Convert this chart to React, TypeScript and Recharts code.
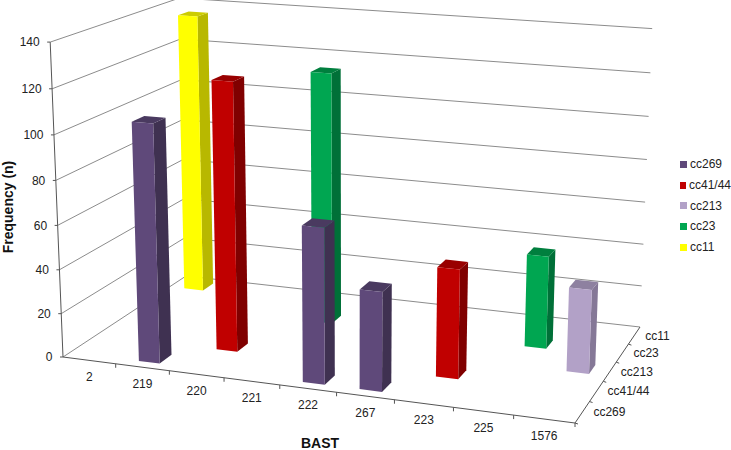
import { BarChart, Bar, XAxis, YAxis, Legend, Customized } from "recharts";

const WIDTH = 731;
const HEIGHT = 450;
const AXIS_SIZE = 1; // axes with a zero size are not drawn at all
const PLOT_W = WIDTH - AXIS_SIZE;
const PLOT_H = HEIGHT - AXIS_SIZE;

const categories = ["2", "219", "220", "221", "222", "267", "223", "225", "1576"];
const cc269 = [null, 107, null, null, 69, 44, null, null, null];
const cc4144 = [null, null, 122, null, null, null, 49, null, null];
const cc213 = [null, null, null, null, null, null, null, null, 38];
const cc23 = [null, null, null, 118, null, null, null, 43, null];
const cc11 = [135, null, null, null, null, null, null, null, null];

// front to back, same order as the depth axis
const seriesNames = ["cc269", "cc41/44", "cc213", "cc23", "cc11"];
const seriesValues = [cc269, cc4144, cc213, cc23, cc11];
const frontColors = ["#5F497A", "#C00000", "#B2A1C7", "#00A651", "#FFFF00"];
const sideColors = ["#3F3151", "#800000", "#857897", "#007038", "#B8B800"];
const topColors = ["#4A3A60", "#990000", "#8E81A0", "#007F3E", "#CCCC00"];
const valueTicks = [0, 20, 40, 60, 80, 100, 120, 140];
const MAX_VALUE = 140;

const data = categories.map((name, i) => {
  const row: Record<string, any> = { name };
  seriesNames.forEach((s, j) => {
    row[s] = seriesValues[j][i];
  });
  return row;
});

type Pt = [number, number];

// unit square -> quad, corners in order (0,0) (1,0) (1,1) (0,1); also returns the homogeneous w
function quadMap(p0: Pt, p1: Pt, p2: Pt, p3: Pt) {
  const dx1 = p1[0] - p2[0];
  const dx2 = p3[0] - p2[0];
  const sx = p0[0] - p1[0] + p2[0] - p3[0];
  const dy1 = p1[1] - p2[1];
  const dy2 = p3[1] - p2[1];
  const sy = p0[1] - p1[1] + p2[1] - p3[1];
  const den = dx1 * dy2 - dx2 * dy1;
  const g = (sx * dy2 - dx2 * sy) / den;
  const h = (dx1 * sy - sx * dy1) / den;
  const a = p1[0] - p0[0] + g * p1[0];
  const b = p3[0] - p0[0] + h * p3[0];
  const d = p1[1] - p0[1] + g * p1[1];
  const e = p3[1] - p0[1] + h * p3[1];
  return (u: number, v: number) => {
    const w = g * u + h * v + 1;
    return { x: a * u + b * v + p0[0], y: d * u + e * v + p0[1], w };
  };
}

const floorMap = quadMap([63, 357], [575, 423], [640, 327], [186, 276]);
// vertical edges all run towards this point far below the chart
const NADIR: Pt = [350, 7400];
const RISE = -0.0428;

// u along categories, d along series (both 0..1), t = value / max
function project(u: number, d: number, t: number): Pt {
  const f = floorMap(u, d);
  const r = t * RISE;
  return [(f.x + r * NADIR[0]) / (f.w + r), (f.y + r * NADIR[1]) / (f.w + r)];
}

const toPoints = (pts: Pt[]) => pts.map((p) => `${p[0].toFixed(1)},${p[1].toFixed(1)}`).join(" ");

const BAR_U = 0.39 / categories.length;
const BAR_D = 0.47 / seriesNames.length;

function Prism(props: any) {
  const { x, width, height, seriesIndex } = props;
  if (!height) return null;
  const u = (x + width / 2 - AXIS_SIZE) / PLOT_W;
  const t = height / PLOT_H;
  const d = (seriesIndex + 0.5) / seriesNames.length;
  const u0 = u - BAR_U / 2;
  const u1 = u + BAR_U / 2;
  const d0 = d - BAR_D / 2;
  const d1 = d + BAR_D / 2;
  return (
    <g>
      <polygon
        points={toPoints([project(u1, d0, 0), project(u1, d1, 0), project(u1, d1, t), project(u1, d0, t)])}
        fill={sideColors[seriesIndex]}
      />
      <polygon
        points={toPoints([project(u0, d0, t), project(u1, d0, t), project(u1, d1, t), project(u0, d1, t)])}
        fill={topColors[seriesIndex]}
      />
      <polygon
        points={toPoints([project(u0, d0, 0), project(u1, d0, 0), project(u1, d0, t), project(u0, d0, t)])}
        fill={frontColors[seriesIndex]}
      />
    </g>
  );
}

function Walls() {
  return (
    <g>
      {valueTicks.map((v) => {
        const t = v / MAX_VALUE;
        return (
          <polyline
            key={v}
            points={toPoints([project(0, 0, t), project(0, 1, t), project(1, 1, t)])}
            fill="none"
            stroke="#8C8C8C"
            strokeWidth={1}
          />
        );
      })}
      <polyline
        points={toPoints([project(0, 0, 1), project(0, 0, 0), project(1, 0, 0), project(1, 1, 0)])}
        fill="none"
        stroke="#555555"
        strokeWidth={1}
      />
      {valueTicks.map((v) => {
        const p = project(0, 0, v / MAX_VALUE);
        return <line key={v} x1={p[0] - 3} y1={p[1]} x2={p[0]} y2={p[1]} stroke="#555555" />;
      })}
      {categories.map((_, i) => {
        const p = project((i + 1) / categories.length, 0, 0);
        return <line key={i} x1={p[0]} y1={p[1]} x2={p[0]} y2={p[1] + 4} stroke="#555555" />;
      })}
      {seriesNames.map((s, j) => {
        const tick = project(1, j / seriesNames.length, 0);
        const p = project(1, (j + 0.5) / seriesNames.length, 0);
        return (
          <g key={s}>
            <line x1={tick[0]} y1={tick[1]} x2={tick[0] + 3} y2={tick[1] + 1} stroke="#555555" />
            <text x={p[0] + 11} y={p[1]} dy="0.35em" fontSize={12} fill="#222222">
              {s}
            </text>
          </g>
        );
      })}
    </g>
  );
}

function ValueTick({ y, payload }: any) {
  const p = project(0, 0, (PLOT_H - y) / PLOT_H);
  return (
    <text x={p[0] - 10.5} y={p[1]} dy="0.35em" textAnchor="end" fontSize={12} fill="#222222">
      {payload.value}
    </text>
  );
}

function CategoryTick({ x, payload }: any) {
  const p = project((x - AXIS_SIZE) / PLOT_W, 0, 0);
  return (
    <text x={p[0]} y={p[1] + 16.5} dy="0.35em" textAnchor="middle" fontSize={12} fill="#222222">
      {payload.value}
    </text>
  );
}

function LegendBox({ payload }: any) {
  const items = [...(payload || [])].sort(
    (a: any, b: any) => seriesNames.indexOf(a.value) - seriesNames.indexOf(b.value),
  );
  return (
    <div>
      {items.map((item: any) => (
        <div key={item.value} style={{ display: "flex", alignItems: "center", height: 20.7, fontSize: 12, color: "#222222" }}>
          <span style={{ width: 7, height: 7, background: item.color, marginRight: 3 }} />
          {item.value}
        </div>
      ))}
    </div>
  );
}

export default function App() {
  // back row first so nearer bars paint over it
  const drawOrder = seriesNames.map((_, j) => seriesNames.length - 1 - j);
  return (
    <div style={{ position: "absolute", left: 0, top: 0, fontFamily: "'Liberation Sans', Arial, sans-serif" }}>
      <BarChart
        width={WIDTH}
        height={HEIGHT}
        data={data}
        margin={{ top: 0, right: 0, bottom: 0, left: 0 }}
        barCategoryGap={0}
      >
        <XAxis dataKey="name" height={AXIS_SIZE} axisLine={false} tickLine={false} interval={0} tick={<CategoryTick />} />
        <YAxis
          width={AXIS_SIZE}
          domain={[0, MAX_VALUE]}
          ticks={valueTicks}
          interval={0}
          axisLine={false}
          tickLine={false}
          tick={<ValueTick />}
        />
        <Customized component={Walls} />
        {drawOrder.map((j) => (
          <Bar
            key={seriesNames[j]}
            dataKey={seriesNames[j]}
            name={seriesNames[j]}
            stackId="bars"
            fill={frontColors[j]}
            isAnimationActive={false}
            shape={(p: any) => <Prism {...p} seriesIndex={j} />}
          />
        ))}
        <Legend
          content={<LegendBox />}
          layout="horizontal"
          align="center"
          verticalAlign="middle"
          wrapperStyle={{ position: "absolute", left: 680, top: 154, width: 51, bottom: "auto" }}
        />
        <text x={320} y={448} textAnchor="middle" fontSize={14} fontWeight="bold" fill="#111111">
          BAST
        </text>
        <text
          transform="translate(13,207) rotate(-90)"
          textAnchor="middle"
          fontSize={14}
          fontWeight="bold"
          fill="#111111"
        >
          Frequency (n)
        </text>
      </BarChart>
    </div>
  );
}
